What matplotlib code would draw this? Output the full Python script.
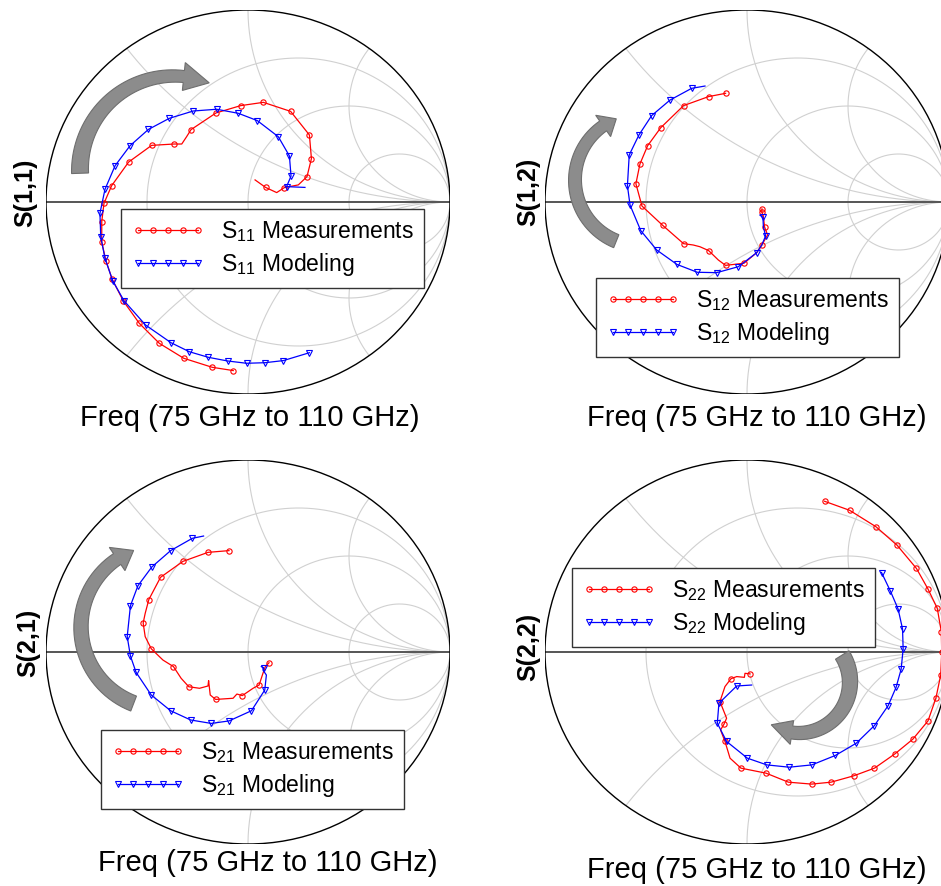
import matplotlib.pyplot as plt
import numpy as np
from matplotlib.patches import Circle, Polygon
from matplotlib.lines import Line2D

plt.rcParams['font.family'] = ['Liberation Sans', 'DejaVu Sans']
plt.rcParams['mathtext.fontset'] = 'custom'
plt.rcParams['mathtext.rm'] = 'Liberation Sans'
plt.rcParams['mathtext.it'] = 'Liberation Sans:italic'

# Smith chart grid
R_CIRCLES = [1/3, 1, 3]
X_ARCS = [0.5, 1, 2, -0.5, -1, -2]

# S11 measured / modeled (reflection coefficient, real & imag)
s11_meas_re = [-0.073, -0.177, -0.318, -0.439, -0.538, -0.617, -0.672, -0.703, -0.724, -0.724,
               -0.713, -0.675, -0.591, -0.477, -0.366, -0.328, -0.304, -0.282, -0.158, -0.036,
               0.076, 0.211, 0.304, 0.314, 0.292, 0.249, 0.180, 0.142, 0.087, 0.035]
s11_meas_im = [-0.878, -0.861, -0.814, -0.736, -0.632, -0.516, -0.403, -0.307, -0.210, -0.102,
               -0.007, 0.085, 0.208, 0.295, 0.302, 0.302, 0.340, 0.377, 0.464, 0.502,
               0.519, 0.472, 0.349, 0.226, 0.132, 0.089, 0.075, 0.049, 0.076, 0.115]
s11_meas_mk = [0, 1, 2, 3, 4, 5, 6, 7, 8, 9, 10, 11, 12, 13, 14, 17, 18, 19, 20, 21, 22, 23, 24, 26, 28]
s11_mod_re = [0.304, 0.175, 0.084, -0.007, -0.101, -0.196, -0.290, -0.381, -0.507, -0.614,
              -0.670, -0.708, -0.729, -0.733, -0.708, -0.658, -0.584, -0.493, -0.389, -0.271,
              -0.155, -0.048, 0.046, 0.150, 0.205, 0.213, 0.191, 0.282]
s11_mod_im = [-0.785, -0.826, -0.837, -0.840, -0.828, -0.809, -0.780, -0.733, -0.641, -0.514,
              -0.410, -0.293, -0.181, -0.059, 0.066, 0.189, 0.293, 0.378, 0.436, 0.474,
              0.483, 0.462, 0.424, 0.340, 0.240, 0.135, 0.080, 0.076]
s11_mod_mk = list(range(27))

# S12
s12_meas_re = [-0.106, -0.190, -0.314, -0.427, -0.492, -0.530, -0.550, -0.520, -0.417, -0.314,
               -0.266, -0.233, -0.190, -0.142, -0.106, -0.015, 0.048, 0.073, 0.102, 0.087,
               0.081, 0.074, 0.074]
s12_meas_im = [0.566, 0.549, 0.502, 0.387, 0.293, 0.198, 0.095, -0.021, -0.122, -0.217,
               -0.224, -0.233, -0.253, -0.302, -0.330, -0.319, -0.264, -0.224, -0.172, -0.130,
               -0.076, -0.054, -0.036]
s12_meas_mk = [0, 1, 2, 3, 4, 5, 6, 7, 8, 9, 12, 14, 15, 17, 19, 21, 22]
s12_mod_re = [-0.208, -0.274, -0.381, -0.472, -0.535, -0.583, -0.592, -0.579, -0.526, -0.447,
              -0.347, -0.246, -0.150, -0.043, 0.048, 0.073, 0.092, 0.081, 0.079, 0.064]
s12_mod_im = [0.604, 0.592, 0.531, 0.450, 0.349, 0.245, 0.085, -0.016, -0.149, -0.250,
              -0.325, -0.366, -0.368, -0.337, -0.264, -0.224, -0.177, -0.128, -0.080, -0.068]
s12_mod_mk = [1, 2, 3, 4, 5, 6, 7, 8, 9, 10, 11, 12, 13, 14, 16, 18]

# S21
s21_meas_re = [-0.094, -0.198, -0.322, -0.433, -0.491, -0.509, -0.519, -0.509, -0.479, -0.421,
               -0.369, -0.331, -0.293, -0.240, -0.198, -0.195, -0.187, -0.160, -0.074, -0.055,
               -0.028, 0.025, 0.055, 0.074, 0.086, 0.104]
s21_meas_im = [0.528, 0.519, 0.472, 0.389, 0.273, 0.201, 0.151, 0.080, 0.017, -0.042,
               -0.076, -0.137, -0.181, -0.189, -0.177, -0.149, -0.224, -0.247, -0.241, -0.219,
               -0.227, -0.189, -0.172, -0.111, -0.076, -0.056]
s21_meas_mk = [0, 1, 2, 3, 4, 6, 8, 10, 12, 17, 20, 22, 25]
s21_mod_re = [-0.220, -0.276, -0.383, -0.476, -0.545, -0.582, -0.598, -0.582, -0.554, -0.479,
              -0.383, -0.284, -0.182, -0.094, 0.017, 0.083, 0.091, 0.074, 0.078, 0.066]
s21_mod_im = [0.604, 0.592, 0.528, 0.443, 0.345, 0.241, 0.080, -0.021, -0.106, -0.224,
              -0.306, -0.354, -0.372, -0.359, -0.306, -0.198, -0.120, -0.094, -0.082, -0.076]
s21_mod_mk = [1, 2, 3, 4, 5, 6, 7, 8, 9, 10, 11, 12, 13, 14, 15, 18]

# S22
s22_meas_re = [0.384, 0.508, 0.639, 0.743, 0.839, 0.896, 0.942, 0.962, 0.964, 0.959,
               0.935, 0.896, 0.821, 0.733, 0.631, 0.528, 0.416, 0.320, 0.205, 0.094,
               -0.030, -0.084, -0.109, -0.131, -0.114, -0.101, -0.134, -0.109, -0.079, -0.051,
               -0.013, -0.010, 0.015]
s22_meas_im = [0.785, 0.738, 0.652, 0.556, 0.435, 0.328, 0.227, 0.106, -0.002, -0.120,
               -0.241, -0.359, -0.454, -0.530, -0.605, -0.645, -0.678, -0.688, -0.678, -0.631,
               -0.605, -0.553, -0.466, -0.406, -0.376, -0.345, -0.258, -0.180, -0.139, -0.128,
               -0.132, -0.111, -0.114]
s22_meas_mk = list(range(21)) + [22, 24, 26, 28, 32]
s22_mod_re = [0.666, 0.710, 0.748, 0.770, 0.773, 0.763, 0.738, 0.699, 0.631, 0.541,
              0.437, 0.321, 0.209, 0.098, 0.002, -0.101, -0.147, -0.139, -0.051, 0.023]
s22_mod_im = [0.414, 0.317, 0.224, 0.120, 0.016, -0.090, -0.184, -0.279, -0.383, -0.475,
              -0.539, -0.588, -0.600, -0.588, -0.553, -0.466, -0.371, -0.267, -0.177, -0.172]
s22_mod_mk = list(range(19))

W, H = 941, 886
fig = plt.figure(figsize=(W / 100, H / 100), dpi=100)


def smith_axes(cx, cy, rx, ry):
    ax = fig.add_axes([(cx - rx) / W, 1 - (cy + ry) / H, 2 * rx / W, 2 * ry / H])
    ax.set_xlim(-1, 1)
    ax.set_ylim(-1, 1)
    ax.axis('off')
    bound = Circle((0, 0), 1, fill=False, ec='black', lw=1.0, zorder=3)
    ax.add_patch(bound)
    t = np.linspace(0, 2 * np.pi, 500)
    for r in R_CIRCLES:
        c, rad = r / (1 + r), 1 / (1 + r)
        ax.plot(c + rad * np.cos(t), rad * np.sin(t), color='#d0d0d0', lw=0.8, zorder=1)
    for x in X_ARCS:
        rad = abs(1 / x)
        ln, = ax.plot(1 + rad * np.cos(t), 1 / x + rad * np.sin(t), color='#d0d0d0', lw=0.8, zorder=1)
        ln.set_clip_path(bound)
    ax.plot([-1, 1], [0, 0], color='#555555', lw=1.4, zorder=2)
    return ax


def arc_arrow(cx, cy, R, a0, a1, atip, w0, w1, hw):
    # curved block arrow, pixel coords (y down), angles in degrees, clockwise
    a = np.radians(np.linspace(a0, a1, 40))
    w = np.linspace(w0, w1, 40)
    pt = lambda r, th: (cx + r * np.cos(th), cy - r * np.sin(th))
    outer = [pt(R + wi / 2, ai) for ai, wi in zip(a, w)]
    inner = [pt(R - wi / 2, ai) for ai, wi in zip(a, w)][::-1]
    head = [pt(R + hw / 2, a[-1]), pt(R, np.radians(atip)), pt(R - hw / 2, a[-1])]
    pts = np.array(outer + head + inner)
    pts = np.column_stack([pts[:, 0] / W, 1 - pts[:, 1] / H])
    fig.add_artist(Polygon(pts, closed=True, transform=fig.transFigure,
                           fc='#8c8c8c', ec='#6e6e6e', lw=0.8))


def draw(ax, meas, mod, sub, leg_xy):
    ax.plot(meas[0], meas[1], color='red', lw=0.9, marker='o', ms=3.8, mfc='none',
            mew=0.8, markevery=meas[2], zorder=5)
    ax.plot(mod[0], mod[1], color='blue', lw=0.9, marker='v', ms=5, mfc='none',
            mew=0.8, markevery=mod[2], zorder=5)
    h1 = Line2D([], [], color='red', lw=0.9, marker='o', ms=3.8, mfc='none', mew=0.8)
    h2 = Line2D([], [], color='blue', lw=0.9, marker='v', ms=5, mfc='none', mew=0.8)
    leg = ax.legend([h1, h2], [f'S$_{{{sub}}}$ Measurements', f'S$_{{{sub}}}$ Modeling'],
                    loc='upper left', bbox_to_anchor=(leg_xy[0] / W, 1 - leg_xy[1] / H),
                    bbox_transform=fig.transFigure, borderaxespad=0, fontsize=16.5,
                    numpoints=5, handlelength=3.2, handletextpad=0.7, borderpad=0.45,
                    labelspacing=0.3, fancybox=False, framealpha=1, edgecolor='#333333')
    leg.get_frame().set_linewidth(1.0)
    leg.set_zorder(10)


ax1 = smith_axes(248, 202, 202, 192)
draw(ax1, (s11_meas_re, s11_meas_im, s11_meas_mk), (s11_mod_re, s11_mod_im, s11_mod_mk), '11', (121, 209))
ax2 = smith_axes(747, 202, 202, 192)
draw(ax2, (s12_meas_re, s12_meas_im, s12_meas_mk), (s12_mod_re, s12_mod_im, s12_mod_mk), '12', (596, 278))
ax3 = smith_axes(248, 652, 202, 192)
draw(ax3, (s21_meas_re, s21_meas_im, s21_meas_mk), (s21_mod_re, s21_mod_im, s21_mod_mk), '21', (101, 730))
ax4 = smith_axes(747, 652, 202, 192)
draw(ax4, (s22_meas_re, s22_meas_im, s22_meas_mk), (s22_mod_re, s22_mod_im, s22_mod_mk), '22', (572, 568))

# frequency direction arrows
arc_arrow(174, 170, 94, 182, 84, 68, 17, 12, 28)
arc_arrow(641, 180, 66, 248, 125, 112, 14, 12, 26)
arc_arrow(163, 627, 82, 249, 124, 111, 16, 13, 28)
arc_arrow(799, 682, 51, 32, -98, -123, 16, 13, 24)

for (x, y) in [(250, 418), (757, 418), (268, 863), (757, 870)]:
    fig.text(x / W, 1 - y / H, 'Freq (75 GHz to 110 GHz)', fontsize=21, ha='center', va='center')
for (x, y, s) in [(25, 193, 'S(1,1)'), (528, 192, 'S(1,2)'), (28, 643, 'S(2,1)'), (528, 647, 'S(2,2)')]:
    fig.text(x / W, 1 - y / H, s, fontsize=18, fontweight='bold', rotation=90, ha='center', va='center')

fig.savefig('out.png', dpi=100)
